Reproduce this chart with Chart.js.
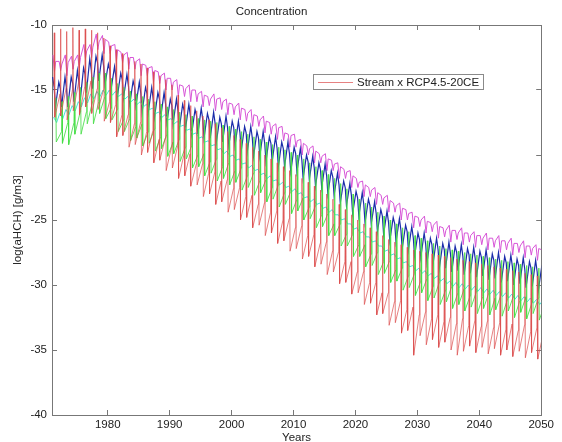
<!DOCTYPE html>
<html>
<head>
<meta charset="utf-8">
<title>Concentration</title>
<script src="https://cdn.jsdelivr.net/npm/chart.js@4.4.1/dist/chart.umd.min.js"></script>
<style>
  html, body { margin: 0; padding: 0; background: #fff; }
  canvas { display: block; }
</style>
</head>
<body>
<canvas id="conc" width="562" height="442"></canvas>
<script>
// model years, one entry per year
const years = Array.from({ length: 80 }, (_, i) => 1971 + i);
const xTicks = [1980, 1990, 2000, 2010, 2020, 2030, 2040, 2050];
const yTicks = [-40, -35, -30, -25, -20, -15, -10];

// magenta run: yearly high, low and second bump
const magHi = [
  -12.3, -12.8, -12.3, -12.4, -12.3, -11.5, -11.5, -10.7, -10.8, -11.3,
  -11.5, -12.1, -12.1, -12.5, -12.6, -13.1, -13.2, -13.6, -13.7, -14.1,
  -14.2, -14.7, -14.6, -15.0, -15.1, -15.5, -15.3, -15.6, -15.7, -16.1,
  -16.0, -16.5, -16.5, -17.0, -17.0, -17.5, -17.6, -17.8, -18.4, -18.4,
  -18.8, -19.3, -19.3, -19.9, -19.9, -20.4, -20.6, -21.1, -21.2, -21.8,
  -22.0, -22.5, -22.5, -23.1, -23.1, -23.7, -23.7, -24.2, -24.4, -24.8,
  -24.7, -25.2, -25.1, -25.6, -25.4, -25.8, -25.6, -26.0, -25.9, -26.2,
  -26.0, -26.4, -26.2, -26.6, -26.4, -26.8, -26.6, -27.0, -26.9, -27.3
];
const magLo = [
  -13.6, -13.5, -13.9, -13.4, -13.3, -12.6, -12.5, -11.9, -12.2, -12.2,
  -12.8, -12.9, -13.4, -13.4, -13.9, -13.9, -14.4, -14.5, -15.0, -15.0,
  -15.5, -15.5, -15.9, -15.9, -16.3, -16.2, -16.6, -16.5, -16.9, -16.9,
  -17.3, -17.4, -17.8, -17.8, -18.3, -18.4, -18.8, -18.9, -19.4, -19.4,
  -20.0, -20.0, -20.6, -20.6, -21.2, -21.2, -21.8, -21.8, -22.5, -22.5,
  -23.2, -23.2, -23.8, -23.8, -24.4, -24.4, -25.0, -25.0, -25.6, -25.5,
  -26.0, -25.9, -26.4, -26.3, -26.7, -26.5, -26.9, -26.7, -27.1, -26.9,
  -27.3, -27.1, -27.5, -27.3, -27.7, -27.5, -27.9, -27.7, -28.1, -28.0
];
const magMid = [
  -12.8, -13.0, -12.9, -12.8, -12.5, -12.0, -11.7, -11.3, -11.1, -11.6,
  -11.9, -12.3, -12.5, -12.8, -13.0, -13.3, -13.5, -13.9, -14.1, -14.4,
  -14.6, -14.9, -15.0, -15.3, -15.4, -15.7, -15.7, -15.9, -16.0, -16.3,
  -16.4, -16.8, -16.9, -17.3, -17.4, -17.8, -17.9, -18.3, -18.5, -18.9,
  -19.1, -19.5, -19.7, -20.1, -20.3, -20.7, -20.9, -21.3, -21.6, -22.1,
  -22.3, -22.7, -22.9, -23.3, -23.5, -23.9, -24.1, -24.5, -24.7, -25.0,
  -25.1, -25.4, -25.5, -25.8, -25.8, -26.0, -26.0, -26.2, -26.2, -26.4,
  -26.4, -26.6, -26.6, -26.8, -26.8, -27.0, -27.0, -27.2, -27.2, -27.5
];

// blue run
const bluHi = [
  -14.0, -14.4, -14.0, -14.0, -13.5, -13.3, -12.6, -12.4, -12.3, -13.0,
  -13.2, -13.7, -13.8, -14.3, -14.4, -14.8, -14.8, -15.2, -15.2, -15.7,
  -15.7, -16.1, -16.1, -16.5, -16.4, -16.8, -16.7, -17.1, -17.0, -17.4,
  -17.4, -17.8, -17.8, -18.2, -18.2, -18.6, -18.6, -19.0, -19.0, -19.4,
  -19.5, -20.0, -20.1, -20.6, -20.7, -21.2, -21.4, -22.0, -22.2, -22.8,
  -22.9, -23.4, -23.6, -24.2, -24.3, -24.8, -24.9, -25.4, -25.5, -26.0,
  -26.0, -26.4, -26.4, -26.8, -26.7, -27.0, -26.9, -27.2, -27.1, -27.4,
  -27.3, -27.6, -27.5, -27.8, -27.7, -28.0, -27.9, -28.2, -28.1, -28.5
];
const bluMid = [
  -14.8, -14.9, -14.9, -14.5, -14.4, -13.8, -13.5, -12.9, -13.2, -13.5,
  -14.1, -14.2, -14.7, -14.8, -15.3, -15.3, -15.7, -15.7, -16.1, -16.2,
  -16.6, -16.6, -17.0, -17.0, -17.3, -17.3, -17.6, -17.6, -17.9, -17.9,
  -18.3, -18.3, -18.7, -18.7, -19.1, -19.1, -19.5, -19.5, -19.9, -19.9,
  -20.4, -20.5, -21.0, -21.1, -21.6, -21.7, -22.3, -22.5, -23.1, -23.3,
  -23.8, -23.9, -24.5, -24.7, -25.2, -25.3, -25.8, -25.9, -26.4, -26.5,
  -26.9, -26.9, -27.3, -27.3, -27.6, -27.5, -27.8, -27.7, -28.0, -27.9,
  -28.2, -28.1, -28.4, -28.3, -28.6, -28.5, -28.8, -28.7, -29.0, -29.0
];
const bluLo = [
  -16.3, -16.3, -16.3, -15.9, -15.8, -15.2, -14.9, -14.3, -14.6, -14.9,
  -15.5, -15.6, -16.1, -16.2, -16.7, -16.7, -17.1, -17.1, -17.5, -17.6,
  -18.0, -18.0, -18.4, -18.4, -18.7, -18.7, -19.0, -19.0, -19.3, -19.3,
  -19.7, -19.7, -20.1, -20.1, -20.5, -20.5, -20.9, -20.9, -21.3, -21.3,
  -21.8, -21.9, -22.4, -22.5, -23.0, -23.1, -23.7, -23.9, -24.5, -24.7,
  -25.2, -25.3, -25.9, -26.1, -26.6, -26.7, -27.2, -27.3, -27.8, -27.9,
  -28.3, -28.3, -28.7, -28.7, -29.0, -28.9, -29.2, -29.1, -29.4, -29.3,
  -29.6, -29.5, -29.8, -29.7, -30.0, -29.9, -30.2, -30.1, -30.4, -30.6
];

// cyan run (smooth)
const cyaHi = [
  -17.1, -16.8, -16.5, -16.2, -15.9, -15.6, -15.3, -15.1, -15.0, -15.0,
  -15.1, -15.3, -15.5, -15.7, -15.9, -16.1, -16.4, -16.7, -16.9, -17.2,
  -17.4, -17.7, -18.0, -18.3, -18.6, -18.9, -19.2, -19.5, -19.7, -20.0,
  -20.3, -20.6, -20.8, -21.1, -21.4, -21.6, -21.9, -22.1, -22.4, -22.6,
  -22.9, -23.2, -23.4, -23.7, -24.0, -24.2, -24.6, -24.9, -25.3, -25.6,
  -25.9, -26.3, -26.6, -27.0, -27.3, -27.6, -27.9, -28.2, -28.5, -28.7,
  -28.9, -29.1, -29.3, -29.5, -29.7, -29.8, -29.9, -30.0, -30.1, -30.2,
  -30.3, -30.4, -30.5, -30.6, -30.7, -30.8, -30.9, -31.0, -31.1, -31.2
];
const cyaLo = [
  -17.5, -17.2, -16.9, -16.6, -16.3, -16.0, -15.7, -15.5, -15.4, -15.4,
  -15.5, -15.7, -15.9, -16.1, -16.3, -16.5, -16.8, -17.1, -17.3, -17.6,
  -17.8, -18.1, -18.4, -18.7, -19.0, -19.3, -19.6, -19.9, -20.1, -20.4,
  -20.7, -21.0, -21.2, -21.5, -21.8, -22.0, -22.3, -22.5, -22.8, -23.0,
  -23.3, -23.6, -23.8, -24.1, -24.4, -24.6, -25.0, -25.3, -25.7, -26.0,
  -26.3, -26.7, -27.0, -27.4, -27.7, -28.0, -28.3, -28.6, -28.9, -29.1,
  -29.3, -29.5, -29.7, -29.9, -30.1, -30.2, -30.3, -30.4, -30.5, -30.6,
  -30.7, -30.8, -30.9, -31.0, -31.1, -31.2, -31.3, -31.4, -31.5, -31.6
];

// green run: band top, band bottom and the yearly pulse
const grnHi = [
  -17.3, -18.2, -17.5, -17.5, -16.7, -16.7, -15.9, -15.9, -15.5, -16.4,
  -16.5, -17.3, -17.2, -17.8, -17.6, -18.2, -18.0, -18.6, -18.4, -19.0,
  -18.8, -19.4, -19.3, -20.0, -19.9, -20.5, -20.3, -20.9, -20.6, -21.2,
  -21.0, -21.6, -21.4, -22.0, -21.9, -22.5, -22.3, -22.9, -22.8, -23.4,
  -23.3, -24.0, -23.9, -24.6, -24.5, -25.3, -25.3, -26.1, -26.1, -26.9,
  -26.9, -27.6, -27.5, -28.2, -28.1, -28.8, -28.7, -29.3, -29.1, -29.7,
  -29.5, -30.1, -29.8, -30.4, -30.1, -30.6, -30.3, -30.8, -30.5, -30.9,
  -30.6, -31.0, -30.7, -31.1, -30.8, -31.2, -30.9, -31.3, -31.0, -31.5
];
const grnLo = [
  -19.0, -19.1, -19.2, -18.4, -18.4, -17.6, -17.6, -16.8, -17.2, -17.3,
  -18.2, -18.2, -18.9, -18.7, -19.3, -19.1, -19.7, -19.5, -20.1, -19.9,
  -20.5, -20.3, -21.0, -20.9, -21.6, -21.4, -22.0, -21.8, -22.3, -22.1,
  -22.7, -22.5, -23.1, -22.9, -23.6, -23.4, -24.0, -23.8, -24.5, -24.3,
  -25.0, -24.9, -25.6, -25.5, -26.2, -26.2, -27.0, -27.0, -27.8, -27.8,
  -28.6, -28.5, -29.2, -29.1, -29.8, -29.7, -30.4, -30.2, -30.8, -30.6,
  -31.2, -31.0, -31.5, -31.3, -31.8, -31.5, -32.0, -31.7, -32.2, -31.8,
  -32.3, -31.9, -32.4, -32.0, -32.5, -32.1, -32.6, -32.2, -32.7, -32.6
];
const grnPeak = [
  -15.6, -15.9, -15.5, -15.2, -14.8, -14.4, -14.0, -13.7, -13.7, -14.1,
  -14.5, -14.8, -15.1, -15.3, -15.5, -15.7, -15.9, -16.1, -16.3, -16.5,
  -16.7, -16.9, -17.0, -17.2, -17.3, -17.4, -17.5, -17.7, -17.8, -18.0,
  -18.2, -18.4, -18.6, -18.8, -19.0, -19.2, -19.4, -19.6, -19.8, -20.0,
  -20.3, -20.6, -20.9, -21.2, -21.5, -21.8, -22.2, -22.6, -23.0, -23.4,
  -23.7, -24.0, -24.4, -24.7, -25.0, -25.3, -25.6, -25.9, -26.2, -26.4,
  -26.6, -26.8, -27.0, -27.2, -27.3, -27.4, -27.5, -27.6, -27.7, -27.8,
  -27.9, -28.0, -28.1, -28.2, -28.3, -28.4, -28.5, -28.6, -28.7, -28.8
];

// red run (Stream x RCP4.5-20CE)
const redHi = [
  -14.7, -15.3, -14.8, -15.0, -14.4, -14.7, -14.3, -14.9, -15.0, -15.9,
  -16.1, -16.9, -16.9, -17.6, -17.5, -18.2, -18.1, -18.8, -18.7, -19.4,
  -19.3, -20.0, -19.9, -20.7, -20.7, -21.4, -21.3, -22.0, -21.9, -22.6,
  -22.5, -23.2, -23.1, -23.8, -23.7, -24.4, -24.3, -25.0, -24.9, -25.6,
  -25.5, -26.2, -26.1, -26.8, -26.7, -27.4, -27.4, -28.2, -28.2, -29.0,
  -29.0, -29.8, -29.8, -30.6, -30.6, -31.3, -31.2, -31.9, -31.7, -32.3,
  -32.1, -32.6, -32.3, -32.8, -32.5, -33.0, -32.6, -33.1, -32.7, -33.2,
  -32.8, -33.3, -32.9, -33.4, -33.0, -33.5, -33.1, -33.6, -33.3, -33.8
];
const redLo = [
  -17.1, -17.0, -17.3, -16.6, -16.9, -16.3, -16.8, -16.5, -17.4, -17.5,
  -18.6, -18.5, -19.4, -19.2, -20.0, -19.8, -20.6, -20.4, -21.2, -21.0,
  -21.8, -21.6, -22.4, -22.3, -23.2, -23.0, -23.8, -23.6, -24.4, -24.2,
  -25.0, -24.8, -25.6, -25.4, -26.2, -26.0, -26.8, -26.6, -27.4, -27.2,
  -28.0, -27.8, -28.6, -28.4, -29.2, -29.0, -29.9, -29.8, -30.7, -30.6,
  -31.5, -31.4, -32.3, -32.2, -33.1, -32.9, -33.7, -33.5, -35.4, -33.9,
  -34.6, -34.2, -34.8, -34.4, -35.0, -35.4, -35.1, -34.7, -35.2, -34.8,
  -35.3, -34.9, -35.4, -35.0, -35.5, -35.1, -35.6, -35.2, -35.7, -36.0
];
const redPeak = [
  -10.6, -10.3, -10.5, -10.2, -10.4, -10.3, -10.4, -10.6, -11.0, -11.6,
  -11.9, -12.2, -12.5, -12.8, -13.0, -13.3, -13.6, -13.9, -14.2, -14.6,
  -15.4, -15.8, -16.2, -16.6, -17.0, -17.3, -17.6, -17.9, -18.2, -18.5,
  -18.8, -19.1, -19.4, -19.7, -20.0, -20.3, -20.6, -20.9, -21.2, -21.5,
  -21.8, -22.1, -22.4, -22.7, -23.0, -23.4, -23.8, -24.2, -24.6, -25.0,
  -25.3, -25.6, -25.9, -26.2, -26.5, -26.7, -26.9, -27.1, -27.3, -27.4,
  -27.5, -27.6, -27.7, -27.8, -27.9, -28.0, -28.1, -28.2, -28.3, -28.4,
  -28.5, -28.6, -28.7, -28.8, -28.9, -29.0, -29.1, -29.2, -29.3, -29.5
];

const legendLabel = 'Stream x RCP4.5-20CE';
const frameColor = '#777777';
const textColor = '#222222';

// each part is [fraction of the year, yearly values]
function seasonal(parts) {
  const pts = [];
  years.forEach((yr, i) => {
    parts.forEach(([frac, vals]) => pts.push({ x: yr + frac, y: vals[i] }));
  });
  return pts;
}

Chart.defaults.font.family = '"Liberation Sans", Arial, sans-serif';
Chart.defaults.font.size = 11.5;
Chart.defaults.color = textColor;

// MATLAB style legend box drawn inside the axes
const boxLegend = {
  id: 'boxLegend',
  afterDatasetsDraw(chart) {
    const ds = chart.data.datasets.find(d => d.label === legendLabel);
    const ctx = chart.ctx;
    ctx.save();
    ctx.fillStyle = '#ffffff';
    ctx.fillRect(313.5, 74.5, 170, 15);
    ctx.strokeStyle = '#8a8a8a';
    ctx.lineWidth = 1;
    ctx.strokeRect(313.5, 74.5, 170, 15);
    ctx.strokeStyle = ds.borderColor;
    ctx.beginPath();
    ctx.moveTo(318, 82.5);
    ctx.lineTo(353, 82.5);
    ctx.stroke();
    ctx.fillStyle = textColor;
    ctx.font = '11.5px "Liberation Sans", Arial, sans-serif';
    ctx.textBaseline = 'middle';
    ctx.fillText(legendLabel, 357, 82.5);
    ctx.restore();
  }
};

function line(label, color, data, width = 1) {
  return {
    label, data,
    borderColor: color,
    borderWidth: width,
    pointRadius: 0,
    tension: 0,
    fill: false
  };
}

const inwardGrid = { drawOnChartArea: false, tickLength: -5, color: frameColor, lineWidth: 1 };
const frame = { color: frameColor, width: 1 };

new Chart(document.getElementById('conc'), {
  type: 'line',
  data: {
    datasets: [
      line(legendLabel, 'rgba(220,75,75,0.7)',
        seasonal([[0.30, redHi], [0.37, redPeak], [0.44, redLo]])),
      line('green', 'rgba(70,222,70,0.85)',
        seasonal([[0.55, grnHi], [0.62, grnPeak], [0.69, grnLo]])),
      line('cyan', 'rgb(75,228,218)',
        seasonal([[0.25, cyaHi], [0.75, cyaLo]])),
      line('blue', 'rgb(28,45,170)',
        seasonal([[0.10, bluHi], [0.35, bluMid], [0.55, bluLo]]), 1.2),
      line('magenta', 'rgb(215,85,215)',
        seasonal([[0.15, magHi], [0.40, magLo], [0.60, magMid]]))
    ]
  },
  options: {
    responsive: false,
    animation: false,
    normalized: true,
    layout: { padding: { left: 0, right: 19, top: 0, bottom: 0 } },
    plugins: {
      legend: { display: false },
      tooltip: { enabled: false },
      title: {
        display: true,
        text: 'Concentration',
        color: textColor,
        font: { size: 11.5, weight: 'normal' },
        padding: { top: 5, bottom: 6.2 }
      }
    },
    scales: {
      x: {
        type: 'linear',
        position: 'bottom',
        min: 1971,
        max: 2050,
        afterBuildTicks: s => { s.ticks = xTicks.map(v => ({ value: v })); },
        afterFit: s => { s.height = 27; },
        grid: inwardGrid,
        border: frame,
        ticks: { padding: 8, maxRotation: 0, callback: v => String(v) },
        title: { display: true, text: 'Years', padding: { top: 0, bottom: -3 } }
      },
      xTop: {
        type: 'linear',
        axis: 'x',
        position: 'top',
        min: 1971,
        max: 2050,
        afterBuildTicks: s => { s.ticks = xTicks.map(v => ({ value: v })); },
        afterFit: s => { s.height = 0; },
        grid: inwardGrid,
        border: frame,
        ticks: { display: false }
      },
      y: {
        type: 'linear',
        position: 'left',
        min: -40,
        max: -10,
        afterBuildTicks: s => { s.ticks = yTicks.map(v => ({ value: v })); },
        afterFit: s => { s.width = 52; },
        grid: inwardGrid,
        border: frame,
        ticks: { padding: 10, callback: v => String(v) },
        title: { display: true, text: 'log(aHCH) [g/m3]', padding: { top: 11, bottom: 0 } }
      },
      yRight: {
        type: 'linear',
        axis: 'y',
        position: 'right',
        min: -40,
        max: -10,
        afterBuildTicks: s => { s.ticks = yTicks.map(v => ({ value: v })); },
        afterFit: s => { s.width = 0; },
        grid: inwardGrid,
        border: frame,
        ticks: { display: false }
      }
    }
  },
  plugins: [boxLegend]
});
</script>
</body>
</html>
